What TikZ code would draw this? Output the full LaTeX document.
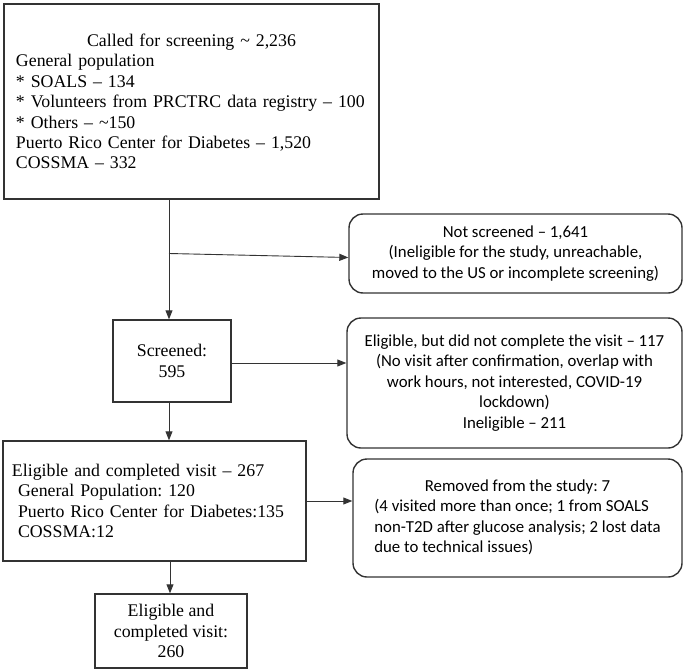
\documentclass[tikz,border=0pt]{standalone}
\usepackage{fontspec}
\setmainfont{Liberation Serif}
\newfontfamily\calibri{Carlito}
\usetikzlibrary{arrows.meta,positioning}

\tikzset{
	box/.style={draw=black!80, line width=1.4pt, inner sep=0pt, font=\frenchspacing\fontsize{17.8}{20.4}\selectfont},
	roundbox/.style={draw=black!80, line width=1.4pt, rounded corners=14pt, inner sep=0pt, font=\frenchspacing\calibri\fontsize{16.8}{20.4}\selectfont}
}

\begin{document}
\begin{tikzpicture}[x=1pt, y=1pt, on grid, line width=0.9pt, >={Triangle[length=9pt,width=7pt]}]
	\useasboundingbox (0,0) rectangle (686,-672);
	\node [box, minimum width=375pt, minimum height=195pt, text width=351pt, align=left] (called) at (191.5,-101.5) {\makebox[351pt]{Called for screening \textasciitilde{} 2,236}\\General population\\{}* SOALS – 134\\{}* Volunteers from PRCTRC data registry – 100\\{}* Others – \textasciitilde150\\Puerto Rico Center for Diabetes – 1,520\\COSSMA – 332};
	\node [box, minimum width=118pt, minimum height=82pt, align=center] (screened) [below=259.5pt of called, xshift=-19.5pt] {Screened:\\595};
	\node [roundbox, minimum width=333pt, minimum height=79pt, align=center] (notscr) [right=343.5pt of screened, yshift=107.5pt] {Not screened – 1,641\\(Ineligible for the study, unreachable,\\moved to the US or incomplete screening)};
	\node [roundbox, minimum width=335pt, minimum height=130pt, align=center] (elignot) [right=342.5pt of screened, yshift=-22pt] {Eligible, but did not complete the visit – 117\\(No visit after confirmation, overlap with\\work hours, not interested, COVID-19\\lockdown)\\Ineligible – 211};
	\node [box, minimum width=303pt, minimum height=120pt, text width=285pt, align=left] (complete) [below=140pt of screened, xshift=-17.5pt] {Eligible and completed visit – 267\\\hspace*{6pt}General Population: 120\\\hspace*{6pt}Puerto Rico Center for Diabetes:135\\\hspace*{6pt}COSSMA:12};
	\node [roundbox, minimum width=329pt, minimum height=118pt] (removed) [right=363pt of complete, yshift=-17pt] {\begin{tabular}{@{}l@{}}\multicolumn{1}{@{}c@{}}{Removed from the study: 7}\\(4 visited more than once; 1 from SOALS\\non-T2D after glucose analysis; 2 lost data\\due to technical issues)\end{tabular}};
	\node [box, minimum width=152pt, minimum height=74pt, align=center] (final) [below=130pt of complete, xshift=16.5pt] {Eligible and\\completed visit:\\260};

	\path[->, color=black!80]
		([xshift=-3pt]called.south -| screened.north) edge ([xshift=-3pt]screened.north)
		([xshift=-3pt]screened.north |- notscr.west) edge ([yshift=-4pt]notscr.west)
		([yshift=-2pt]screened.east) edge ([yshift=-2pt]screened.east -| elignot.west)
		([xshift=-3pt]screened.south) edge ([xshift=-3pt]screened.south |- complete.north)
		(complete.east) edge (complete.east -| removed.west)
		([xshift=-1pt]final.north |- complete.south) edge ([xshift=-1pt]final.north)
		;
\end{tikzpicture}
\end{document}
